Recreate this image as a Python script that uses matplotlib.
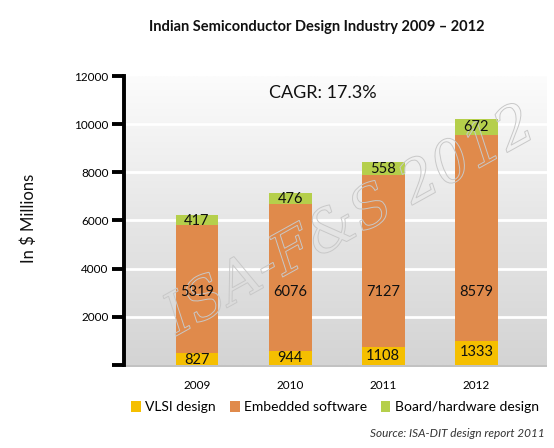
import matplotlib
matplotlib.use("Agg")
import matplotlib.pyplot as plt
import matplotlib.patheffects as pe
from matplotlib.colors import LinearSegmentedColormap
import numpy as np

years = ["2009", "2010", "2011", "2012"]
vlsi = [827, 944, 1108, 1333]
embedded = [5319, 6076, 7127, 8579]
board = [417, 476, 558, 672]
series_names = ["VLSI design", "Embedded software", "Board/hardware design"]
yticks = [2000, 4000, 6000, 8000, 10000, 12000]

C_VLSI = "#F5BF00"
C_EMB = "#E08A4B"
C_BOARD = "#B5CF4B"

# bars in the original start below the visible floor
BASE = -350

plt.rcParams['font.family'] = ['Lato', 'DejaVu Sans']

fig = plt.figure(figsize=(5.54, 4.48), dpi=100)
ax = fig.add_axes([124/554, (448-367)/448, (547-124)/554, (367-76)/448])

x = np.arange(len(years))
ax.set_xlim(-0.785, 3.76)
ax.set_ylim(-90, 12000)

# gradient background
grad = np.linspace(0, 1, 256).reshape(-1, 1)
cmap = LinearSegmentedColormap.from_list("bg", ["#d4d4d4", "#e6e6e6", "#fcfcfc"])
ax.imshow(grad, aspect="auto", cmap=cmap, origin="lower",
          extent=(-0.785, 3.76, 0, 12000), zorder=0)
ax.axhspan(-90, 0, color="#c2c2c2", zorder=5, lw=0)

for t in yticks[:-1]:
    ax.axhline(t, color="white", lw=2, zorder=1)

w = 0.46
b0 = [BASE] * len(years)
ax.bar(x, vlsi, w, bottom=b0, color=C_VLSI, zorder=2, label=series_names[0])
bot1 = [BASE + v for v in vlsi]
ax.bar(x, embedded, w, bottom=bot1, color=C_EMB, zorder=2, label=series_names[1])
bot2 = [a + b for a, b in zip(bot1, embedded)]
ax.bar(x, board, w, bottom=bot2, color=C_BOARD, zorder=2, label=series_names[2])

for i in range(len(years)):
    ax.text(x[i], BASE + vlsi[i] * 0.65, str(vlsi[i]), ha="center", va="center",
            fontsize=10.5, color="#111111", zorder=4)
    ax.text(x[i], 3030, str(embedded[i]), ha="center", va="center",
            fontsize=10.5, color="#111111", zorder=4)
    ax.text(x[i], bot2[i] + board[i] * 0.47, str(board[i]), ha="center", va="center",
            fontsize=10.5, color="#111111", zorder=4)

# spines / ticks
for s in ["top", "right", "bottom"]:
    ax.spines[s].set_visible(False)
ax.spines["left"].set_linewidth(2.8)
ax.spines["left"].set_bounds(0, 12000)
ax.spines["left"].set_zorder(6)
ax.set_yticks([0] + yticks)
ax.set_yticklabels([""] + [str(t) for t in yticks], fontsize=8.5)
ax.tick_params(axis="y", direction="out", length=9, width=2.8, pad=2)
ax.set_xticks(x)
ax.set_xticklabels(years, fontsize=8.5)
ax.tick_params(axis="x", length=0, pad=9)

ax.text(0.47, 0.94, "CAGR: 17.3%", transform=ax.transAxes, ha="center", va="center",
        fontsize=13, color="#111111", zorder=5)

# watermark
ax.text(0.535, 0.5, "ISA-F&S 2012", transform=ax.transAxes, ha="center", va="center",
        fontsize=41, rotation=29, family="DejaVu Serif", style="italic", zorder=3,
        path_effects=[pe.PathPatchEffect(edgecolor="#c8c8c8", facecolor="none", linewidth=0.7)])

fig.text(317/554, 1 - 27/448, "Indian Semiconductor Design Industry 2009 – 2012",
         ha="center", va="center", fontsize=10.5, fontweight="bold", color="#111111")
fig.text(29/554, 1 - 218/448, "In $ Millions", rotation=90, ha="center", va="center",
         fontsize=12, color="#111111")

handles, labels = ax.get_legend_handles_labels()
fig.legend(handles, labels, loc="center", bbox_to_anchor=(335/554, 1 - 407/448),
           ncol=3, frameon=False, fontsize=10, handlelength=0.7, handleheight=0.9,
           handletextpad=0.3, columnspacing=1.0)

fig.text(545/554, 1 - 433/448, "Source: ISA-DIT design report 2011", ha="right", va="center",
         fontsize=8.5, style="italic", color="#333333")

fig.savefig("out.png", dpi=100)
